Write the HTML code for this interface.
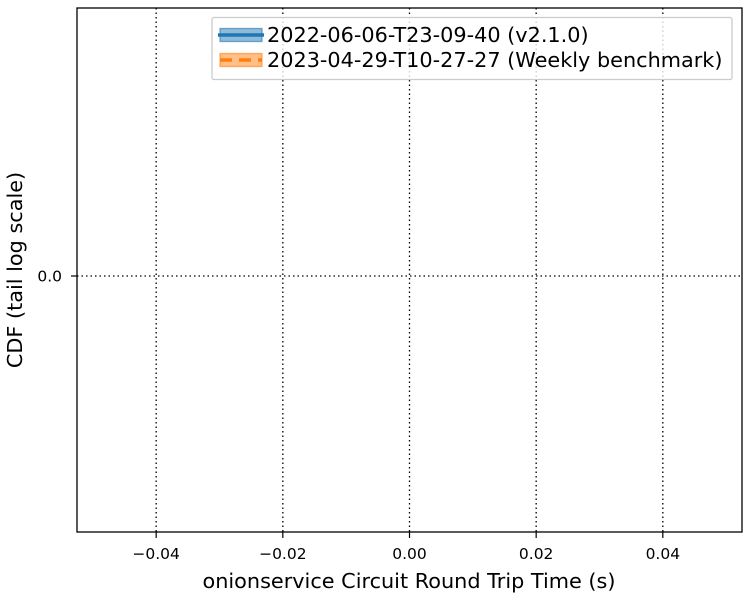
<!DOCTYPE html>
<html><head><meta charset="utf-8"><style>
body{margin:0;background:#fff}
svg{display:block;font-family:"DejaVu Sans","Liberation Sans",sans-serif}
</style></head><body>
<svg id="chart" width="750" height="600" viewBox="0 0 750 600"></svg>
<script>
const xTicks = [-0.04, -0.02, 0.00, 0.02, 0.04];
const xTickLabels = ["\u22120.04", "\u22120.02", "0.00", "0.02", "0.04"];
const yTicks = [0.0];
const yTickLabels = ["0.0"];
const seriesNames = ["2022-06-06-T23-09-40 (v2.1.0)", "2023-04-29-T10-27-27 (Weekly benchmark)"];
const series1X = [];
const series1Y = [];
const series2X = [];
const series2Y = [];

const NS = "http://www.w3.org/2000/svg";
const svg = document.getElementById("chart");
const L = 77, R = 742, T = 8, B = 532;
const xMin = -0.0525, xMax = 0.0525;
const xs = v => L + (v - xMin) / (xMax - xMin) * (R - L);
const ys = v => 276 - v * 4000;
function el(tag, attrs, parent) {
  const e = document.createElementNS(NS, tag);
  for (const k in attrs) e.setAttribute(k, attrs[k]);
  (parent || svg).appendChild(e);
  return e;
}
xTicks.forEach((t, i) => {
  const x = xs(t);
  const g = el("line", {x1: x, x2: x, y1: T, y2: B, stroke: "#000", "stroke-width": 1.3, "stroke-dasharray": "1.5,3"});
  
  
  const tk = el("line", {x1: x, x2: x, y1: B, y2: B + 6, stroke: "#000", "stroke-width": 1.2});
  
  
  const tx = el("text", {x: x, y: B + 27, "text-anchor": "middle", "font-size": 15.5});
  tx.textContent = xTickLabels[i];
  
  
});
yTicks.forEach((t, i) => {
  const y = ys(t);
  const g = el("line", {x1: L, x2: R, y1: y, y2: y, stroke: "#000", "stroke-width": 1.3, "stroke-dasharray": "1.5,3"});
  
  
  const tk = el("line", {x1: L - 6, x2: L, y1: y, y2: y, stroke: "#000", "stroke-width": 1.2});
  
  
  const tx = el("text", {x: L - 15, y: y + 5.5, "text-anchor": "end", "font-size": 15.5});
  tx.textContent = yTickLabels[i];
  
  
});
function drawSeries(xArr, yArr, color, dash, name) {
  if (!xArr.length) return;
  const pts = xArr.map((v, i) => xs(v) + "," + ys(yArr[i])).join(" ");
  const p = el("polyline", {points: pts, fill: "none", stroke: color, "stroke-width": 2, "stroke-dasharray": dash});
  
  
}
drawSeries(series1X, series1Y, "#1f77b4", "none", "series-v2-1-0-line");
drawSeries(series2X, series2Y, "#ff7f0e", "12,7", "series-weekly-line");
const fr = el("rect", {x: L, y: T, width: R - L, height: B - T, fill: "none", stroke: "#000", "stroke-width": 1.3});


const xt = el("text", {x: 409, y: 588, "text-anchor": "middle", "font-size": 20.8});
xt.textContent = "onionservice Circuit Round Trip Time (s)";


const yt = el("text", {x: 0, y: 0, "text-anchor": "middle", "font-size": 20.8, transform: "translate(22,270) rotate(-90)"});
yt.textContent = "CDF (tail log scale)";


const lg = el("g", {});


el("rect", {x: 212, y: 17.5, width: 520, height: 62, fill: "#fff", "fill-opacity": 0.8, stroke: "#ccc", "stroke-width": 1.3, rx: 2}, lg);
const colors = ["#1f77b4", "#ff7f0e"];
const dashes = ["none", "12,7"];
seriesNames.forEach((n, i) => {
  const cy = 35 + i * 25;
  const e = el("g", {}, lg);
  
  
  el("rect", {x: 220, y: cy - 6.5, width: 42, height: 13, fill: colors[i], "fill-opacity": 0.5, stroke: colors[i], "stroke-opacity": 0.6, "stroke-width": 1.3}, e);
  el("line", {x1: i ? 220 : 218, x2: i ? 262 : 264, y1: cy, y2: cy, stroke: colors[i], "stroke-width": 3.5, "stroke-dasharray": dashes[i]}, e);
  const t = el("text", {x: 267, y: cy + 7, "font-size": 20.8}, e);
  t.textContent = n;
});
</script>
</body></html>
